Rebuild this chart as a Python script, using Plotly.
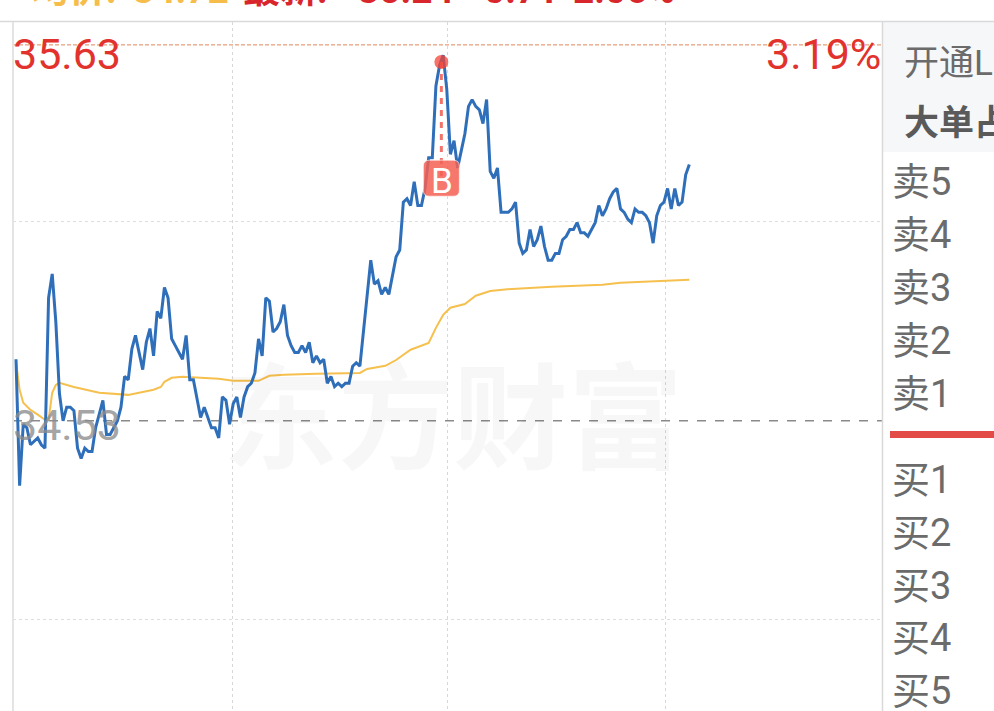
import plotly.graph_objects as go

W, H = 994, 711
FONT = "Roboto, 'Noto Sans CJK SC', sans-serif"

prev_close = 34.53
day_high = 35.63
high_pct = "3.19%"
price = [
    34.71,34.34,34.52,34.51,34.46,34.47,34.48,34.46,34.45,34.89,
    34.96,34.82,34.61,34.53,34.57,34.57,34.56,34.45,34.42,34.45,
    34.44,34.44,34.51,34.55,34.59,34.49,34.49,34.51,34.53,34.57,
    34.66,34.65,34.74,34.78,34.73,34.68,34.76,34.80,34.72,34.85,
    34.83,34.92,34.89,34.77,34.75,34.73,34.71,34.78,34.65,34.65,
    34.60,34.54,34.57,34.54,34.51,34.51,34.48,34.60,34.59,34.52,
    34.58,34.60,34.54,34.60,34.63,34.64,34.67,34.77,34.72,34.89,
    34.88,34.79,34.80,34.82,34.87,34.78,34.75,34.73,34.73,34.75,
    34.73,34.76,34.70,34.72,34.70,34.71,34.64,34.66,34.63,34.64,
    34.63,34.64,34.64,34.69,34.70,34.69,34.80,34.90,35.00,34.93,
    34.94,34.90,34.92,34.90,34.95,35.01,35.03,35.17,35.18,35.16,
    35.23,35.16,35.16,35.21,35.30,35.30,35.51,35.57,35.60,35.50,
    35.31,35.35,35.27,35.32,35.37,35.45,35.47,35.45,35.44,35.40,
    35.47,35.26,35.24,35.27,35.14,35.14,35.14,35.15,35.17,35.05,
    35.02,35.03,35.09,35.04,35.06,35.10,35.04,35.00,35.00,35.02,
    35.02,35.06,35.07,35.09,35.09,35.11,35.08,35.08,35.07,35.09,
    35.11,35.16,35.13,35.15,35.18,35.20,35.21,35.15,35.14,35.12,
    35.11,35.15,35.14,35.14,35.13,35.11,35.05,35.13,35.16,35.17,
    35.21,35.15,35.21,35.16,35.17,35.25,35.28,
]
minutes = list(range(len(price)))

avg_minutes = [0,1,2,4,6,8,9,10,11,12,16,19,23,31,34,38,40,41,43,46,51,56,60,67,70,74,83,92,95,97,
               102,105,109,114,116,118,120,124,127,131,137,148,162,167,175,186]
avg_price = [34.703,34.621,34.583,34.562,34.548,34.533,34.533,34.612,34.635,34.641,34.629,34.621,
             34.612,34.606,34.612,34.621,34.629,34.644,34.656,34.659,34.656,34.653,34.647,34.647,
             34.662,34.665,34.668,34.668,34.670,34.682,34.691,34.708,34.738,34.758,34.802,34.840,
             34.861,34.872,34.896,34.910,34.916,34.922,34.928,34.934,34.937,34.943]

buy_minute = 117.5
buy_price = 35.58
badge_price = 35.24

sell_labels = ["卖5", "卖4", "卖3", "卖2", "卖1"]
buy_labels = ["买1", "买2", "买3", "买4", "买5"]
sell_rows = [182, 235, 288, 341, 394]
buy_rows = [480, 533, 586, 638, 691]

x_range = [-0.83, 239.23]
y_range = [33.681, 35.697]
x_grid = [59.7, 119.3, 179.3]
y_grid = [35.112, 33.948]


def px(x):
    return x / W


def py(y):
    return 1 - y / H


fig = go.Figure()
fig.add_trace(go.Scatter(x=x_range, y=[prev_close, prev_close], mode="lines",
                         line=dict(color="#8a8a8a", width=1.5, dash="9px 9px"), hoverinfo="skip"))
fig.add_trace(go.Scatter(x=x_range, y=[day_high, day_high], mode="lines",
                         line=dict(color="#e0845a", width=1, dash="4px 2px"), hoverinfo="skip"))
fig.add_trace(go.Scatter(x=avg_minutes, y=avg_price, mode="lines",
                         line=dict(color="#f6c04f", width=2), hoverinfo="skip"))
fig.add_trace(go.Scatter(x=minutes, y=price, mode="lines",
                         line=dict(color="#2f6fba", width=3, shape="linear"), hoverinfo="skip"))
fig.add_trace(go.Scatter(x=[buy_minute, buy_minute], y=[buy_price, badge_price], mode="lines",
                         line=dict(color="rgba(240,100,90,0.9)", width=3, dash="6px 6px"), hoverinfo="skip"))
fig.add_trace(go.Scatter(x=[buy_minute], y=[buy_price], mode="markers",
                         marker=dict(color="rgba(244,67,54,0.75)", size=14), hoverinfo="skip"))

shapes = [
    dict(type="rect", xref="paper", yref="paper", x0=px(883), x1=1, y0=py(152), y1=py(22),
         fillcolor="#f6f7f9", line_width=0, layer="below"),
    dict(type="line", xref="paper", yref="paper", x0=0, x1=1, y0=py(21.5), y1=py(21.5),
         line=dict(color="#d9d9d9", width=1.5)),
    dict(type="line", xref="paper", yref="paper", x0=px(882.5), x1=px(882.5), y0=0, y1=py(22),
         line=dict(color="#d9d9d9", width=1.5)),
    dict(type="line", xref="paper", yref="paper", x0=px(13), x1=px(13), y0=0, y1=py(22),
         line=dict(color="#e4e4e4", width=2)),
    dict(type="rect", xref="paper", yref="paper", x0=px(890), x1=1, y0=py(438), y1=py(431),
         fillcolor="#e34b47", line_width=0),
    dict(type="path", xsizemode="pixel", ysizemode="pixel", xref="x", yref="y",
         xanchor=buy_minute, yanchor=badge_price,
         path="M -12,-18 L 12,-18 Q 18,-18 18,-12 L 18,12 Q 18,18 12,18 L -12,18 Q -18,18 -18,12 L -18,-12 Q -18,-18 -12,-18 Z",
         fillcolor="rgba(244,96,84,0.85)", line=dict(color="rgba(255,255,255,0.6)", width=1)),
]

def note(text, x, y, size, color, xanchor="left", bold=False):
    return dict(text=f"<b>{text}</b>" if bold else text, xref="paper", yref="paper", x=px(x), y=py(y),
                xanchor=xanchor, yanchor="middle", showarrow=False,
                font=dict(family=FONT, size=size, color=color))

annotations = [
    note("东方财富", 453, 420, 115, "rgba(0,0,0,0.03)", "center", True),
    note(f"{day_high:.2f}", 11, 54, 43, "#e2322d"),
    note(high_pct, 883, 54, 43, "#e2322d", "right"),
    note(f"{prev_close:.2f}", 11, 425, 43, "rgba(140,140,140,0.8)"),
    note("B", 442, 181, 35, "#ffffff", "center"),
    note("均价:", 30, -9, 37, "#f6bd4b", bold=True),
    note("34.72", 131, -9, 37, "#f6bd4b", bold=True),
    note("最新:", 241, -9, 37, "#d9262c", bold=True),
    note("35.24", 356, -9, 37, "#d9262c", bold=True),
    note("0.71", 482, -9, 37, "#d9262c", bold=True),
    note("2.06%", 571, -9, 37, "#d9262c", bold=True),
    note("开通L2", 902, 64, 35, "#6b6b6b"),
    note("大单占比", 902, 124, 35, "#5a5a5a", bold=True),
]
for label, row in zip(sell_labels + buy_labels, sell_rows + buy_rows):
    annotations.append(note(label, 890, row, 38, "#6b6b6b"))

fig.update_layout(
    width=W, height=H, autosize=False, showlegend=False,
    paper_bgcolor="#ffffff", plot_bgcolor="#ffffff",
    margin=dict(l=0, r=0, t=0, b=0),
    shapes=shapes, annotations=annotations,
    xaxis=dict(domain=[px(13), px(882)], range=x_range, tickvals=x_grid, showticklabels=False, ticks="",
               showgrid=True, gridcolor="#d8d8d8", griddash="dot", gridwidth=1, zeroline=False, showline=False),
    yaxis=dict(domain=[0, py(22)], range=y_range, tickvals=y_grid, showticklabels=False, ticks="",
               showgrid=True, gridcolor="#dedede", griddash="dot", gridwidth=1, zeroline=False, showline=False),
)
fig.write_html("out.html", config=dict(displayModeBar=False),
               post_script="document.body.style.margin='0';document.body.style.overflow='hidden';")
